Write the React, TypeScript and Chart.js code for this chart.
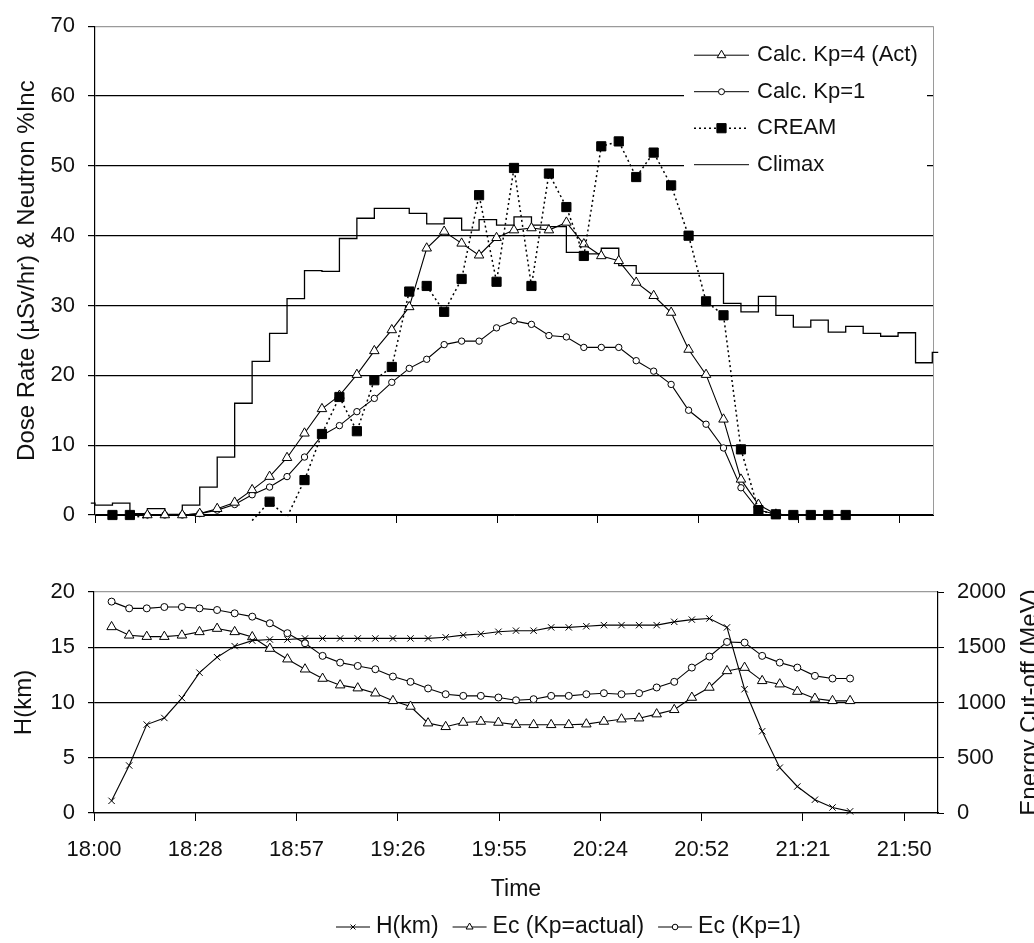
import React, { useEffect, useRef } from 'react';
import { Chart, registerables } from 'chart.js';

Chart.register(...registerables);

const FONT_FAMILY = '"Liberation Sans", Arial, Helvetica, sans-serif';
const INK = '#111111';
const GRID_DARK = '#000000';
const FRAME_GREY = '#9a9a9a';

// ---- time axis (minutes after 18:00) ----
const timeTickMinutes = [0, 28.8, 57.6, 86.4, 115.2, 144, 172.8, 201.6, 230.4];
const timeTickLabels = ['18:00', '18:28', '18:57', '19:26', '19:55', '20:24', '20:52', '21:21', '21:50'];

// sample times of the calculated / measured series (minutes after 18:00)
const sampleMinutes = [5, 10, 15, 20, 25, 30, 35, 40, 45, 50, 55, 60, 65, 70, 75, 80, 85, 90, 95, 100, 105, 110, 115, 120, 125, 130, 135, 140, 145, 150, 155, 160, 165, 170, 175, 180, 185, 190, 195, 200, 205, 210, 215];

// ---- top panel series ----
const topLabels = ['Calc. Kp=4 (Act)', 'Calc. Kp=1', 'CREAM', 'Climax'];

const calcKp4 = [null, null, 0, 0, 0, 0.2, 0.9, 1.8, 3.6, 5.5, 8.2, 11.7, 15.2, 17.1, 20.1, 23.5, 26.5, 29.8, 38.2, 40.6, 38.9, 37.2, 39.7, 40.8, 41.1, 40.8, 41.9, 38.8, 37.1, 36.4, 33.3, 31.4, 29.0, 23.7, 20.1, 13.7, 5.1, 1.5, 0.1, null, null, null, null];

const calcKp1 = [null, null, 0, 0, 0, 0.2, 0.7, 1.5, 2.9, 4.0, 5.5, 8.3, 11.4, 12.8, 14.8, 16.7, 19.0, 21.0, 22.3, 24.4, 24.9, 24.9, 26.8, 27.8, 27.3, 25.7, 25.5, 24.0, 24.0, 24.0, 22.1, 20.6, 18.7, 15.0, 13.0, 9.6, 3.9, 0.7, 0.1, null, null, null, null];

const cream = [0, 0, -0.5, -1.5, -2.5, -3, -2.5, -1.8, -0.8, 1.9, -0.3, 5.0, 11.6, 16.9, 12.0, 19.3, 21.2, 32.0, 32.8, 29.1, 33.8, 45.8, 33.4, 49.7, 32.8, 48.9, 44.1, 37.1, 52.8, 53.5, 48.4, 51.9, 47.2, 40.0, 30.6, 28.6, 9.4, 0.7, 0.1, 0, 0, 0, 0];

const climaxMinutes = [-1.2, 0, 5, 10, 15, 20, 25, 30, 35, 40, 45, 50, 55, 60, 65, 70, 75, 80, 85, 90, 95, 100, 105, 110, 115, 120, 125, 130, 135, 140, 145, 150, 155, 160, 165, 170, 175, 180, 185, 190, 195, 200, 205, 210, 215, 220, 225, 230, 235, 239.8, 241.5];
const climaxValues = [1.7, 1.4, 1.7, 0.2, 0.9, 0.1, 1.4, 4.0, 8.3, 16.0, 22.0, 26.0, 31.0, 35.0, 34.9, 39.6, 42.5, 43.9, 43.9, 43.2, 41.7, 42.5, 40.8, 42.3, 41.5, 42.7, 41.5, 41.3, 37.6, 37.4, 38.2, 35.7, 34.6, 34.6, 34.6, 34.6, 34.6, 30.3, 29.1, 31.3, 28.6, 26.9, 27.9, 26.2, 27.0, 26.0, 25.6, 26.1, 21.8, 23.3, 23.3];

// ---- bottom panel series ----
const bottomLabels = ['H(km)', 'Ec (Kp=actual)', 'Ec (Kp=1)'];

const heightKm = [1.1, 4.3, 8.0, 8.6, 10.4, 12.7, 14.1, 15.1, 15.6, 15.7, 15.7, 15.8, 15.8, 15.8, 15.8, 15.8, 15.8, 15.8, 15.8, 15.9, 16.1, 16.2, 16.4, 16.5, 16.5, 16.8, 16.8, 16.9, 17.0, 17.0, 17.0, 17.0, 17.3, 17.5, 17.6, 16.8, 11.2, 7.4, 4.1, 2.4, 1.2, 0.5, 0.15];

const ecActual = [1684, 1608, 1596, 1596, 1608, 1639, 1669, 1639, 1593, 1488, 1392, 1301, 1217, 1157, 1130, 1084, 1015, 964, 813, 780, 819, 828, 819, 800, 798, 798, 798, 804, 828, 849, 858, 895, 934, 1045, 1136, 1286, 1316, 1196, 1166, 1099, 1036, 1015, 1015];

const ecKp1 = [1913, 1852, 1852, 1864, 1864, 1852, 1837, 1807, 1777, 1717, 1627, 1536, 1422, 1361, 1331, 1301, 1235, 1187, 1127, 1075, 1060, 1060, 1045, 1020, 1030, 1060, 1060, 1075, 1084, 1075, 1084, 1136, 1187, 1316, 1416, 1548, 1542, 1422, 1361, 1316, 1241, 1217, 1217];

// ---- axis ticks ----
const doseTicks = { min: 0, max: 70, step: 10 };
const heightTicks = { min: 0, max: 20, step: 5 };
const energyTicks = { min: 0, max: 2000, step: 500 };

type Marker = 'triangle' | 'circle' | 'rect' | 'crossRot' | 'none';

function toPoints(xs: number[], ys: (number | null)[]) {
  return xs.map((x, i) => ({ x, y: ys[i] }));
}

function drawMarker(ctx: CanvasRenderingContext2D, style: Marker, x: number, y: number, r: number, fill: string) {
  if (style === 'none') return;
  ctx.save();
  ctx.beginPath();
  if (style === 'triangle') {
    ctx.moveTo(x, y - r);
    ctx.lineTo(x + r * 0.866, y + r * 0.5);
    ctx.lineTo(x - r * 0.866, y + r * 0.5);
    ctx.closePath();
  } else if (style === 'circle') {
    ctx.arc(x, y, r, 0, Math.PI * 2);
  } else if (style === 'rect') {
    const s = r * Math.SQRT1_2;
    ctx.rect(x - s, y - s, 2 * s, 2 * s);
  } else if (style === 'crossRot') {
    const d = r * Math.SQRT1_2;
    ctx.moveTo(x - d, y - d);
    ctx.lineTo(x + d, y + d);
    ctx.moveTo(x - d, y + d);
    ctx.lineTo(x + d, y - d);
  }
  if (style !== 'crossRot') {
    ctx.fillStyle = fill;
    ctx.fill();
  }
  ctx.strokeStyle = '#000';
  ctx.lineWidth = 1;
  ctx.stroke();
  ctx.restore();
}

function drawLegendSample(ctx: CanvasRenderingContext2D, x1: number, x2: number, y: number, dash: number[], marker: Marker, r: number, fill: string) {
  ctx.save();
  ctx.strokeStyle = '#000';
  ctx.lineWidth = dash.length ? 1.4 : 1;
  ctx.setLineDash(dash);
  ctx.beginPath();
  ctx.moveTo(x1, y);
  ctx.lineTo(x2, y);
  ctx.stroke();
  ctx.restore();
  drawMarker(ctx, marker, (x1 + x2) / 2, y, r, fill);
}

const topLegendSpec: { dash: number[]; marker: Marker; r: number; fill: string }[] = [
  { dash: [], marker: 'triangle', r: 5, fill: '#fff' },
  { dash: [], marker: 'circle', r: 3, fill: '#fff' },
  { dash: [2, 3], marker: 'rect', r: 6.5, fill: '#000' },
  { dash: [], marker: 'none', r: 0, fill: '#fff' },
];

const bottomLegendSpec: { dash: number[]; marker: Marker; r: number; fill: string }[] = [
  { dash: [], marker: 'crossRot', r: 3.5, fill: '#fff' },
  { dash: [], marker: 'triangle', r: 4, fill: '#fff' },
  { dash: [], marker: 'circle', r: 2.8, fill: '#fff' },
];

const topDecor = {
  id: 'topDecor',
  beforeDatasetsDraw(chart: any) {
    const { ctx, chartArea: a } = chart;
    ctx.save();
    ctx.strokeStyle = FRAME_GREY;
    ctx.lineWidth = 1;
    const xr = Math.round(a.right) + 0.5;
    ctx.beginPath();
    ctx.moveTo(xr, a.top);
    ctx.lineTo(xr, a.bottom);
    ctx.stroke();
    ctx.restore();
  },
  afterDraw(chart: any) {
    const { ctx, chartArea: a } = chart;
    const boxLeft = a.right - 249;
    const boxTop = a.top + 7;
    ctx.save();
    ctx.fillStyle = '#fff';
    ctx.fillRect(boxLeft, boxTop, 243, 146);
    ctx.font = `22px ${FONT_FAMILY}`;
    ctx.textBaseline = 'middle';
    ctx.textAlign = 'left';
    chart.data.datasets.forEach((ds: any, i: number) => {
      const spec = topLegendSpec[i];
      const y = boxTop + 22 + i * 36.5;
      drawLegendSample(ctx, boxLeft + 10, boxLeft + 65, y, spec.dash, spec.marker, spec.r, spec.fill);
      ctx.fillStyle = INK;
      ctx.fillText(ds.label, boxLeft + 73, y);
    });
    ctx.restore();
  },
};

const bottomDecor = {
  id: 'bottomDecor',
  afterDraw(chart: any) {
    const { ctx, chartArea: a } = chart;
    ctx.save();
    // right axis title, reading bottom-to-top
    ctx.font = `24px ${FONT_FAMILY}`;
    ctx.fillStyle = INK;
    ctx.textAlign = 'center';
    ctx.textBaseline = 'alphabetic';
    ctx.translate(a.right + 99, (a.top + a.bottom) / 2);
    ctx.rotate(-Math.PI / 2);
    ctx.fillText('Energy Cut-off (MeV)', 0, 0);
    ctx.restore();

    // bottom legend
    ctx.save();
    ctx.font = `23px ${FONT_FAMILY}`;
    ctx.textBaseline = 'middle';
    ctx.textAlign = 'left';
    const y = chart.height - 16;
    let x = a.left + 242;
    chart.data.datasets.forEach((ds: any, i: number) => {
      const spec = bottomLegendSpec[i];
      drawLegendSample(ctx, x, x + 34, y, spec.dash, spec.marker, spec.r, spec.fill);
      ctx.fillStyle = INK;
      ctx.fillText(ds.label, x + 40, y);
      x += 40 + ctx.measureText(ds.label).width + 14;
    });
    ctx.restore();
  },
};

function setTimeTicks(scale: any) {
  scale.ticks = timeTickMinutes.map((v) => ({ value: v }));
}

function topConfig(): any {
  return {
    type: 'line',
    data: {
      datasets: [
        {
          label: topLabels[0],
          data: toPoints(sampleMinutes, calcKp4),
          borderColor: '#000',
          borderWidth: 1.1,
          pointStyle: 'triangle',
          pointRadius: 5.5,
          pointBackgroundColor: '#fff',
          pointBorderColor: '#000',
          pointBorderWidth: 1,
          order: 1,
          clip: 10,
        },
        {
          label: topLabels[1],
          data: toPoints(sampleMinutes, calcKp1),
          borderColor: '#000',
          borderWidth: 1.1,
          pointStyle: 'circle',
          pointRadius: 3.2,
          pointBackgroundColor: '#fff',
          pointBorderColor: '#000',
          pointBorderWidth: 1,
          order: 2,
          clip: 10,
        },
        {
          label: topLabels[2],
          data: toPoints(sampleMinutes, cream),
          borderColor: '#000',
          borderWidth: 1.5,
          borderDash: [2, 3],
          pointStyle: 'rect',
          pointRadius: (c: any) => (c.raw && c.raw.y < 0 ? 0 : 6.5),
          pointBackgroundColor: '#000',
          pointBorderColor: '#000',
          pointBorderWidth: 1,
          segment: {
            borderColor: (c: any) => (c.p0.parsed.y < 0 && c.p1.parsed.y < 0 ? 'rgba(0,0,0,0)' : '#000'),
          },
          order: 0,
          clip: { left: 10, right: 10, top: 10, bottom: 6 },
        },
        {
          label: topLabels[3],
          data: toPoints(climaxMinutes, climaxValues),
          borderColor: '#000',
          borderWidth: 1.3,
          stepped: 'before',
          pointRadius: 0,
          order: 3,
          clip: { left: 5, right: 6, top: 0, bottom: 0 },
        },
      ],
    },
    options: {
      responsive: false,
      animation: false,
      devicePixelRatio: 1,
      events: [],
      layout: { padding: { left: 0, top: 19, right: 101, bottom: 0 } },
      plugins: { legend: { display: false }, tooltip: { enabled: false } },
      scales: {
        x: {
          type: 'linear',
          min: 0,
          max: 240,
          afterBuildTicks: setTimeTicks,
          afterFit: (s: any) => { s.height = 30; },
          ticks: { display: false },
          grid: { drawOnChartArea: false, drawTicks: true, tickLength: 8, color: GRID_DARK, tickColor: GRID_DARK },
          border: { display: true, color: '#000', width: 1 },
        },
        y: {
          min: doseTicks.min,
          max: doseTicks.max,
          afterFit: (s: any) => { s.width = 95; },
          ticks: { stepSize: doseTicks.step, padding: 13, color: INK, font: { size: 22, family: FONT_FAMILY } },
          grid: {
            color: (c: any) => (c.tick && c.tick.value === doseTicks.max ? FRAME_GREY : GRID_DARK),
            tickColor: GRID_DARK,
            tickLength: 7,
            lineWidth: 1.2,
          },
          border: { display: true, color: '#000', width: 1.2 },
          title: {
            display: true,
            text: 'Dose Rate (µSv/hr) & Neutron %Inc',
            color: INK,
            font: { size: 24, family: FONT_FAMILY },
            padding: { top: 13, bottom: 0 },
          },
        },
      },
    },
    plugins: [topDecor],
  };
}

function bottomConfig(): any {
  return {
    type: 'line',
    data: {
      datasets: [
        {
          label: bottomLabels[0],
          data: toPoints(sampleMinutes, heightKm),
          yAxisID: 'y',
          borderColor: '#000',
          borderWidth: 1.1,
          pointStyle: 'crossRot',
          pointRadius: 4.5,
          pointBorderColor: '#000',
          pointBorderWidth: 1,
          clip: 10,
        },
        {
          label: bottomLabels[1],
          data: toPoints(sampleMinutes, ecActual),
          yAxisID: 'y1',
          borderColor: '#000',
          borderWidth: 1.1,
          pointStyle: 'triangle',
          pointRadius: 5.5,
          pointBackgroundColor: '#fff',
          pointBorderColor: '#000',
          pointBorderWidth: 1,
          clip: 10,
        },
        {
          label: bottomLabels[2],
          data: toPoints(sampleMinutes, ecKp1),
          yAxisID: 'y1',
          borderColor: '#000',
          borderWidth: 1.1,
          pointStyle: 'circle',
          pointRadius: 3.5,
          pointBackgroundColor: '#fff',
          pointBorderColor: '#000',
          pointBorderWidth: 1,
          clip: 10,
        },
      ],
    },
    options: {
      responsive: false,
      animation: false,
      devicePixelRatio: 1,
      events: [],
      layout: { padding: { left: 0, top: 47, right: 0, bottom: 0 } },
      plugins: { legend: { display: false }, tooltip: { enabled: false } },
      scales: {
        x: {
          type: 'linear',
          min: 0,
          max: 240,
          afterBuildTicks: setTimeTicks,
          afterFit: (s: any) => { s.height = 130; },
          ticks: {
            autoSkip: false,
            maxRotation: 0,
            padding: 16,
            color: INK,
            font: { size: 22, family: FONT_FAMILY },
            callback: (_v: any, i: number) => timeTickLabels[i] ?? '',
          },
          grid: { drawOnChartArea: false, drawTicks: true, tickLength: 8, color: GRID_DARK, tickColor: GRID_DARK },
          border: { display: true, color: '#000', width: 1.2 },
          title: {
            display: true,
            text: 'Time',
            color: INK,
            font: { size: 23, family: FONT_FAMILY },
            padding: { top: 0, bottom: 40 },
          },
        },
        y: {
          position: 'left',
          min: heightTicks.min,
          max: heightTicks.max,
          afterFit: (s: any) => { s.width = 94; },
          ticks: { stepSize: heightTicks.step, padding: 13, color: INK, font: { size: 22, family: FONT_FAMILY } },
          grid: {
            color: (c: any) => (c.tick && c.tick.value === heightTicks.max ? FRAME_GREY : GRID_DARK),
            tickColor: GRID_DARK,
            tickLength: 6,
            lineWidth: 1.2,
          },
          border: { display: true, color: '#000', width: 1.2 },
          title: {
            display: true,
            text: 'H(km)',
            color: INK,
            font: { size: 24, family: FONT_FAMILY },
            padding: { top: 10, bottom: 0 },
          },
        },
        y1: {
          position: 'right',
          min: energyTicks.min,
          max: energyTicks.max,
          afterFit: (s: any) => { s.width = 96; },
          ticks: {
            stepSize: energyTicks.step,
            padding: 13,
            color: INK,
            font: { size: 22, family: FONT_FAMILY },
            callback: (v: any) => String(v),
          },
          grid: { drawOnChartArea: false, drawTicks: true, tickLength: 6, color: GRID_DARK, tickColor: GRID_DARK },
          border: { display: true, color: '#000', width: 1.2 },
        },
      },
    },
    plugins: [bottomDecor],
  };
}

export default function App() {
  const topRef = useRef<HTMLCanvasElement>(null);
  const bottomRef = useRef<HTMLCanvasElement>(null);

  useEffect(() => {
    Chart.defaults.font.family = FONT_FAMILY;
    Chart.defaults.color = INK;
    const top = new Chart(topRef.current as HTMLCanvasElement, topConfig());
    const bottom = new Chart(bottomRef.current as HTMLCanvasElement, bottomConfig());
    return () => {
      top.destroy();
      bottom.destroy();
    };
  }, []);

  return (
    <div style={{ position: 'absolute', left: 0, top: 0, width: 1034, height: 943, background: '#fff', overflow: 'hidden' }}>
      <canvas
        ref={topRef}
        width={1034}
        height={545}
        style={{ position: 'absolute', left: 0, top: 0, width: 1034, height: 545, display: 'block' }}
      />
      <canvas
        ref={bottomRef}
        width={1034}
        height={398}
        style={{ position: 'absolute', left: 0, top: 545, width: 1034, height: 398, display: 'block' }}
      />
    </div>
  );
}
